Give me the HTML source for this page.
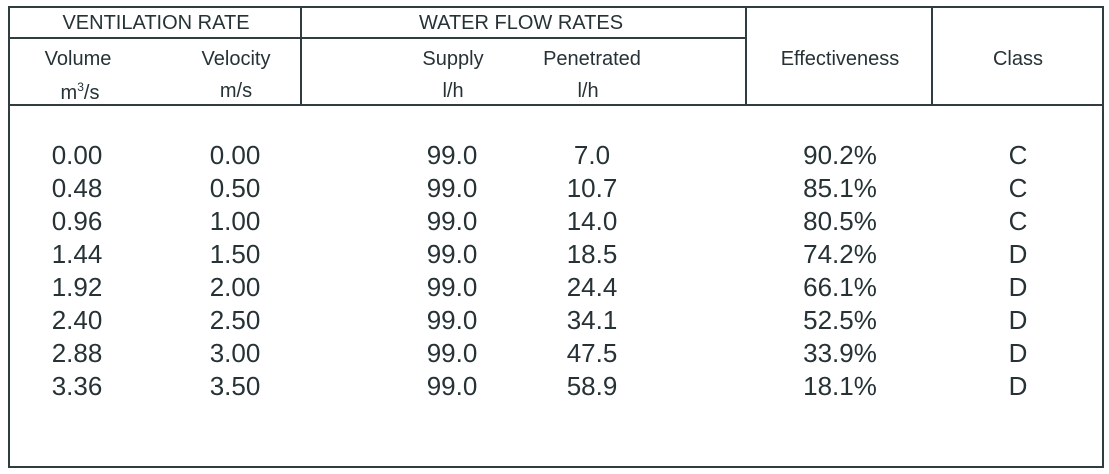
<!DOCTYPE html>
<html><head><meta charset="utf-8"><style>
body{margin:0;width:1109px;height:474px;background:#fff;position:relative;overflow:hidden;font-family:"Liberation Sans",Arial,sans-serif;color:#263236}
.l{position:absolute;background:#2f3c40}
.t{position:absolute;transform:translateX(-50%);white-space:nowrap;line-height:1}
.h{font-size:20px}
.d{font-size:26px}
sup{font-size:12px;vertical-align:8px}
</style></head><body>
<div class="l" style="left:8px;top:6px;width:1096px;height:2px"></div>
<div class="l" style="left:8px;top:466px;width:1096px;height:2px"></div>
<div class="l" style="left:8px;top:6px;width:2px;height:462px"></div>
<div class="l" style="left:1102px;top:6px;width:2px;height:462px"></div>
<div class="l" style="left:8px;top:104px;width:1096px;height:2px"></div>
<div class="l" style="left:8px;top:37px;width:738px;height:2px"></div>
<div class="l" style="left:300px;top:6px;width:2px;height:100px"></div>
<div class="l" style="left:745px;top:6px;width:2px;height:100px"></div>
<div class="l" style="left:931px;top:6px;width:2px;height:100px"></div>

<div class="t h" style="left:156px;top:13px">VENTILATION RATE</div>
<div class="t h" style="left:521px;top:13px">WATER FLOW RATES</div>
<div class="t h" style="left:78px;top:49px">Volume</div>
<div class="t h" style="left:80px;top:81px">m<sup>3</sup>/s</div>
<div class="t h" style="left:236px;top:49px">Velocity</div>
<div class="t h" style="left:236px;top:81px">m/s</div>
<div class="t h" style="left:453px;top:49px">Supply</div>
<div class="t h" style="left:453px;top:81px">l/h</div>
<div class="t h" style="left:592px;top:49px">Penetrated</div>
<div class="t h" style="left:588px;top:81px">l/h</div>
<div class="t h" style="left:840px;top:49px">Effectiveness</div>
<div class="t h" style="left:1018px;top:49px">Class</div>

<div style="position:absolute;left:0;top:142px">
<div class="t d" style="left:77px;top:0">0.00</div><div class="t d" style="left:235px;top:0">0.00</div><div class="t d" style="left:452px;top:0">99.0</div><div class="t d" style="left:592px;top:0">7.0</div><div class="t d" style="left:840px;top:0">90.2%</div><div class="t d" style="left:1018px;top:0">C</div>
<div class="t d" style="left:77px;top:33px">0.48</div><div class="t d" style="left:235px;top:33px">0.50</div><div class="t d" style="left:452px;top:33px">99.0</div><div class="t d" style="left:592px;top:33px">10.7</div><div class="t d" style="left:840px;top:33px">85.1%</div><div class="t d" style="left:1018px;top:33px">C</div>
<div class="t d" style="left:77px;top:66px">0.96</div><div class="t d" style="left:235px;top:66px">1.00</div><div class="t d" style="left:452px;top:66px">99.0</div><div class="t d" style="left:592px;top:66px">14.0</div><div class="t d" style="left:840px;top:66px">80.5%</div><div class="t d" style="left:1018px;top:66px">C</div>
<div class="t d" style="left:77px;top:99px">1.44</div><div class="t d" style="left:235px;top:99px">1.50</div><div class="t d" style="left:452px;top:99px">99.0</div><div class="t d" style="left:592px;top:99px">18.5</div><div class="t d" style="left:840px;top:99px">74.2%</div><div class="t d" style="left:1018px;top:99px">D</div>
<div class="t d" style="left:77px;top:132px">1.92</div><div class="t d" style="left:235px;top:132px">2.00</div><div class="t d" style="left:452px;top:132px">99.0</div><div class="t d" style="left:592px;top:132px">24.4</div><div class="t d" style="left:840px;top:132px">66.1%</div><div class="t d" style="left:1018px;top:132px">D</div>
<div class="t d" style="left:77px;top:165px">2.40</div><div class="t d" style="left:235px;top:165px">2.50</div><div class="t d" style="left:452px;top:165px">99.0</div><div class="t d" style="left:592px;top:165px">34.1</div><div class="t d" style="left:840px;top:165px">52.5%</div><div class="t d" style="left:1018px;top:165px">D</div>
<div class="t d" style="left:77px;top:198px">2.88</div><div class="t d" style="left:235px;top:198px">3.00</div><div class="t d" style="left:452px;top:198px">99.0</div><div class="t d" style="left:592px;top:198px">47.5</div><div class="t d" style="left:840px;top:198px">33.9%</div><div class="t d" style="left:1018px;top:198px">D</div>
<div class="t d" style="left:77px;top:231px">3.36</div><div class="t d" style="left:235px;top:231px">3.50</div><div class="t d" style="left:452px;top:231px">99.0</div><div class="t d" style="left:592px;top:231px">58.9</div><div class="t d" style="left:840px;top:231px">18.1%</div><div class="t d" style="left:1018px;top:231px">D</div>
</div>
</body></html>
